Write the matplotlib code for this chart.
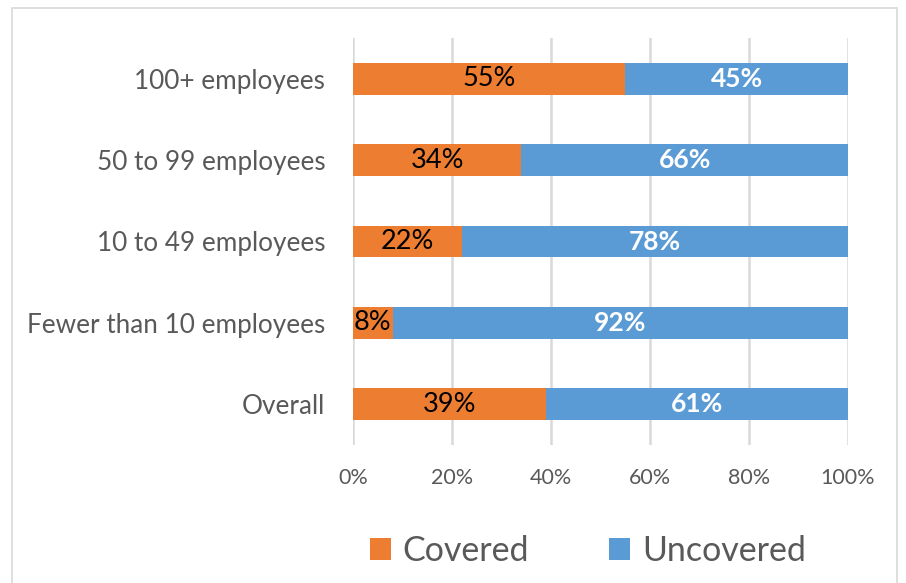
import matplotlib.pyplot as plt
from matplotlib.patches import Rectangle

plt.rcParams['font.family'] = ['Lato', 'DejaVu Sans']

categories = ["Overall", "Fewer than 10 employees", "10 to 49 employees",
              "50 to 99 employees", "100+ employees"]
covered = [39, 8, 22, 34, 55]
uncovered = [61, 92, 78, 66, 45]
tick_values = [0, 20, 40, 60, 80, 100]
tick_labels = ["0%", "20%", "40%", "60%", "80%", "100%"]

orange = "#ED7D31"
blue = "#5B9BD5"

fig = plt.figure(figsize=(9.06, 5.83), dpi=100)
ax = fig.add_axes([353 / 906, 1 - 445 / 583, 495 / 906, 407 / 583])

y = list(range(len(categories)))
bh = 0.39
b1 = ax.barh(y, covered, height=bh, color=orange, label="Covered", zorder=3)
b2 = ax.barh(y, uncovered, left=covered, height=bh, color=blue,
             label="Uncovered", zorder=3)

for yi, c, u in zip(y, covered, uncovered):
    ax.text(c / 2, yi, f"{c}%", ha="center", va="center", fontsize=19.5,
            color="black", zorder=4)
    ax.text(c + u / 2, yi, f"{u}%", ha="center", va="center", fontsize=19,
            color="white", fontweight="bold", zorder=4)

ax.set_xlim(0, 100)
ax.set_ylim(-0.5, len(categories) - 0.5)
ax.set_xticks(tick_values)
ax.set_xticklabels(tick_labels)
ax.set_yticks(y)
ax.set_yticklabels(categories)
ax.tick_params(axis="both", length=0, labelcolor="#595959")
ax.tick_params(axis="x", pad=16.5, labelsize=15.5)
ax.tick_params(axis="y", pad=20, labelsize=18.8)
ax.xaxis.grid(True, color="#D9D9D9", linewidth=1.8, zorder=0)
for s in ax.spines.values():
    s.set_visible(False)

leg = fig.legend(handles=[b1, b2], labels=["Covered", "Uncovered"],
                 loc="center", bbox_to_anchor=(588 / 906, 1 - 551 / 583),
                 ncol=2, frameon=False, fontsize=24.5, handlelength=0.62,
                 handleheight=0.62, columnspacing=2.35, handletextpad=0.35,
                 labelcolor="#595959")

fig.patches.append(Rectangle((12 / 906, -0.05), 885 / 906, 1 - 8 / 583 + 0.05,
                             transform=fig.transFigure, fill=False,
                             edgecolor="#D9D9D9", linewidth=1.2))

fig.savefig("out.png", dpi=100)
